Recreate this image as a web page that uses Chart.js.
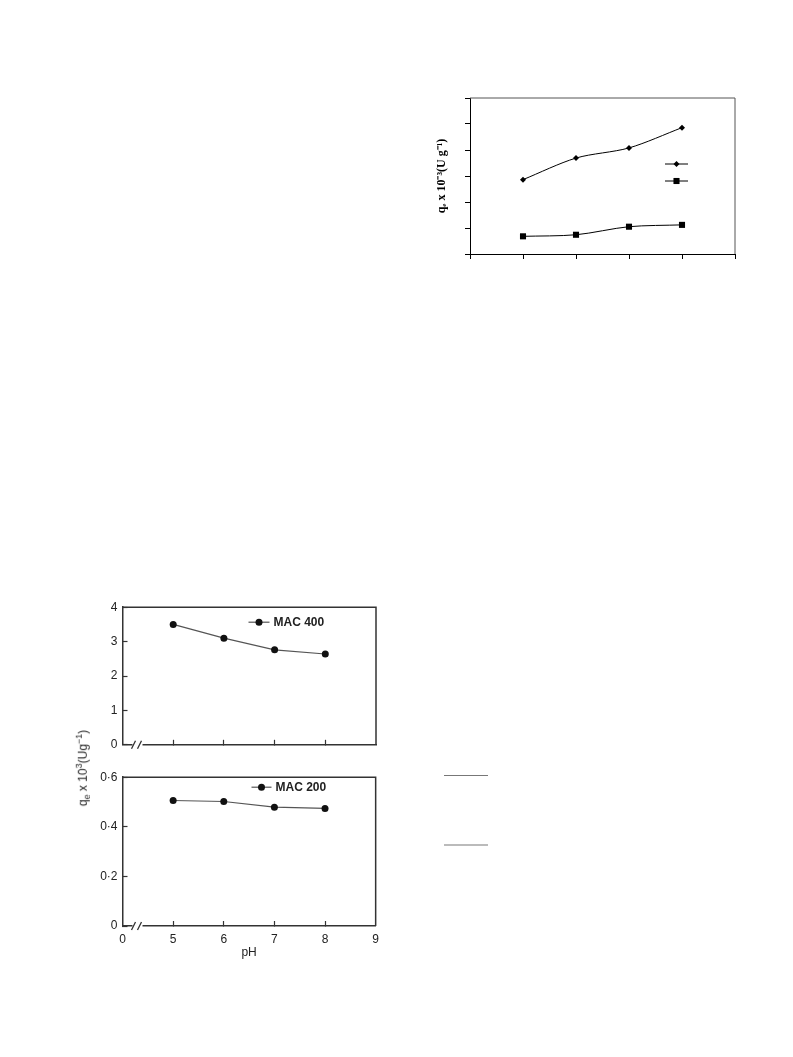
<!DOCTYPE html>
<html>
<head>
<meta charset="utf-8">
<script src="https://cdn.jsdelivr.net/npm/chart.js@4.4.0/dist/chart.umd.min.js"></script>
<style>
  body { margin: 0; background: #fff; width: 793px; height: 1057px; position: relative; overflow: hidden; font-family: "Liberation Sans", Arial, sans-serif; }
  .box { position: absolute; }
  .rule { position: absolute; left: 444px; width: 44px; }
  #ytitle2 { position: absolute; left: 83px; top: 768px; transform: translate(-50%, -50%) rotate(-90deg); white-space: nowrap; font-size: 12px; color: #222; }
  #ytitle2 sup { font-size: 9px; }
  #ytitle2 sub { font-size: 9px; }
</style>
</head>
<body>
<div class="box" style="left:400px; top:85px;"><canvas id="chartTop" width="350" height="190"></canvas></div>
<div class="box" style="left:70px; top:590px;"><canvas id="chartMac400" width="320" height="172"></canvas></div>
<div class="box" style="left:70px; top:760px;"><canvas id="chartMac200" width="320" height="210"></canvas></div>
<div id="ytitle2">q<sub>e</sub> x 10<sup>3</sup>(Ug<sup>&minus;1</sup>)</div>
<div class="rule" style="top:775px; height:1px; background:#777;"></div>
<div class="rule" style="top:844px; height:2px; background:#bbb;"></div>

<script>
// Top right chart (no tick labels in the original)
const topX = [1, 2, 3, 4];
const upperSeries = [2.86, 3.69, 4.08, 4.86];
const lowerSeries = [0.68, 0.74, 1.05, 1.12];

// Bottom left chart, pH axis with a break between 0 and 5
const phValues = [5, 6, 7, 8];
const phTickLabels = ['0', '5', '6', '7', '8', '9'];
const mac400 = [3.5, 3.1, 2.76, 2.64];
const mac200 = [0.506, 0.502, 0.479, 0.474];

const toPoints = (xs, ys) => xs.map((x, i) => ({ x: x, y: ys[i] }));
const phPos = ph => phTickLabels.indexOf(String(ph));

// draws the top and right edges of the plot box
const framePlugin = {
    id: 'frame',
    afterDraw(chart, args, opts) {
        const { ctx, chartArea: a } = chart;
        ctx.save();
        ctx.strokeStyle = opts.color || '#333';
        ctx.lineWidth = opts.width || 1;
        ctx.beginPath();
        ctx.moveTo(a.left, a.top);
        ctx.lineTo(a.right, a.top);
        ctx.lineTo(a.right, a.bottom);
        ctx.stroke();
        ctx.restore();
    }
};

// the "//" break on the pH axis
const breakPlugin = {
    id: 'axisBreak',
    afterDraw(chart, args, opts) {
        if (!opts.show) return;
        const { ctx, chartArea: a } = chart;
        const x0 = a.left + 10, x1 = a.left + 20, y = a.bottom;
        ctx.save();
        ctx.fillStyle = '#fff';
        ctx.fillRect(x0, y - 2, x1 - x0, 4);
        ctx.strokeStyle = '#333';
        ctx.lineWidth = 1.3;
        ctx.beginPath();
        ctx.moveTo(x0 - 1, y + 4); ctx.lineTo(x0 + 3, y - 4);
        ctx.moveTo(x0 + 5, y + 4); ctx.lineTo(x0 + 9, y - 4);
        ctx.stroke();
        ctx.restore();
    }
};

// small legend: line with marker, optional text
const markLegendPlugin = {
    id: 'markLegend',
    afterDraw(chart, args, opts) {
        if (!opts.items) return;
        const { ctx, chartArea: a } = chart;
        ctx.save();
        opts.items.forEach(item => {
            const ds = chart.data.datasets[item.dataset];
            const x0 = a.left + item.dx, x1 = x0 + item.len, y = a.top + item.dy;
            const mx = (x0 + x1) / 2;
            ctx.strokeStyle = ds.borderColor;
            ctx.lineWidth = ds.borderWidth;
            ctx.beginPath();
            ctx.moveTo(x0, y); ctx.lineTo(x1, y);
            ctx.stroke();
            ctx.fillStyle = ds.pointBackgroundColor;
            const r = ds.pointRadius;
            ctx.beginPath();
            if (ds.pointStyle === 'rectRot') {
                ctx.moveTo(mx, y - r); ctx.lineTo(mx + r, y); ctx.lineTo(mx, y + r); ctx.lineTo(mx - r, y);
                ctx.closePath();
            } else if (ds.pointStyle === 'rect') {
                const s = r * Math.SQRT1_2;
                ctx.rect(mx - s, y - s, 2 * s, 2 * s);
            } else {
                ctx.arc(mx, y, r, 0, Math.PI * 2);
            }
            ctx.fill();
            if (item.text) {
                ctx.fillStyle = '#222';
                ctx.font = 'bold 12px "Liberation Sans", Arial, sans-serif';
                ctx.textBaseline = 'middle';
                ctx.textAlign = 'left';
                ctx.fillText(item.text, x1 + 4, y + 0.5);
            }
        });
        ctx.restore();
    }
};

Chart.register(framePlugin, breakPlugin, markLegendPlugin);

// ---------- top right chart ----------
new Chart(document.getElementById('chartTop'), {
    type: 'line',
    data: {
        datasets: [
            {
                data: toPoints(topX, upperSeries),
                borderColor: '#000',
                borderWidth: 1,
                pointStyle: 'rectRot',
                pointRadius: 3,
                pointBackgroundColor: '#000',
                pointBorderWidth: 0,
                tension: 0.3
            },
            {
                data: toPoints(topX, lowerSeries),
                borderColor: '#000',
                borderWidth: 1,
                pointStyle: 'rect',
                pointRadius: 4.3,
                pointBackgroundColor: '#000',
                pointBorderWidth: 0,
                tension: 0.3
            }
        ]
    },
    options: {
        responsive: false,
        animation: false,
        layout: { padding: { top: 13, right: 15, bottom: 11, left: 0 } },
        plugins: {
            legend: { display: false },
            tooltip: { enabled: false },
            frame: { color: '#555', width: 1 },
            markLegend: {
                items: [
                    { dataset: 0, dx: 195, dy: 66, len: 23 },
                    { dataset: 1, dx: 195, dy: 83, len: 23 }
                ]
            }
        },
        scales: {
            x: {
                type: 'linear',
                min: 0,
                max: 5,
                ticks: { display: false, stepSize: 1 },
                grid: { drawOnChartArea: false, tickLength: 5, color: '#000' },
                border: { color: '#000', width: 1 },
                afterFit: s => { s.height = 10; }
            },
            y: {
                min: 0,
                max: 6,
                ticks: { display: false, stepSize: 1 },
                grid: { drawOnChartArea: false, tickLength: 5, color: '#000' },
                border: { color: '#000', width: 1 },
                title: {
                    display: true,
                    text: 'qₑ x 10⁻³(U g⁻¹)',
                    color: '#000',
                    font: { family: '"Liberation Serif", "Times New Roman", serif', size: 12, weight: 'bold' },
                    padding: { top: 35, bottom: 0 }
                },
                afterFit: s => { s.width = 70; }
            }
        }
    }
});

// ---------- bottom left panels ----------
const tickText = '#222';
const tickFont = { family: '"Liberation Sans", Arial, sans-serif', size: 12 };
const hideEnds = ctx => (ctx.index === 0 || ctx.index === phTickLabels.length - 1) ? 'rgba(0,0,0,0)' : '#333';

function panelOptions(yMin, yMax, yStep, yFmt, showX, bottomPad, xHeight, legendItem) {
    return {
        responsive: false,
        animation: false,
        layout: { padding: { top: 14.5, right: 14, bottom: bottomPad, left: 0 } },
        plugins: {
            legend: { display: false },
            tooltip: { enabled: false },
            frame: { color: '#333', width: 1.5 },
            axisBreak: { show: true },
            markLegend: { items: [legendItem] }
        },
        scales: {
            x: {
                type: 'linear',
                min: 0,
                max: phTickLabels.length - 1,
                ticks: {
                    display: showX,
                    stepSize: 1,
                    padding: 11,
                    color: tickText,
                    font: tickFont,
                    callback: v => phTickLabels[v]
                },
                grid: { drawOnChartArea: false, tickLength: -5, tickColor: hideEnds, tickWidth: 1.2 },
                border: { color: '#333', width: 1.5 },
                title: {
                    display: showX,
                    text: 'pH',
                    color: tickText,
                    font: tickFont,
                    padding: { top: 0, bottom: 10 }
                },
                afterFit: s => { s.height = xHeight; }
            },
            y: {
                min: yMin,
                max: yMax,
                ticks: { stepSize: yStep, padding: 10, color: tickText, font: tickFont, callback: yFmt },
                grid: { drawOnChartArea: false, tickLength: -5, color: '#333', tickWidth: 1.2 },
                border: { color: '#333', width: 1.5 },
                afterFit: s => { s.width = 52.5; }
            }
        }
    };
}

function panelDataset(values) {
    return {
        data: toPoints(phValues.map(phPos), values),
        borderColor: '#555',
        borderWidth: 1.2,
        pointStyle: 'circle',
        pointRadius: 3.5,
        pointBackgroundColor: '#111',
        pointBorderWidth: 0,
        tension: 0
    };
}

new Chart(document.getElementById('chartMac400'), {
    type: 'line',
    data: { datasets: [panelDataset(mac400)] },
    options: panelOptions(0, 4, 1, v => String(v), false, 6.5, 2,
        { dataset: 0, dx: 126, dy: 15, len: 21, text: 'MAC 400' })
});

new Chart(document.getElementById('chartMac200'), {
    type: 'line',
    data: { datasets: [panelDataset(mac200)] },
    options: panelOptions(0, 0.6, 0.2, v => v === 0 ? '0' : v.toFixed(1).replace('.', '·'), true, 0, 44,
        { dataset: 0, dx: 129, dy: 10, len: 20, text: 'MAC 200' })
});
</script>
</body>
</html>
